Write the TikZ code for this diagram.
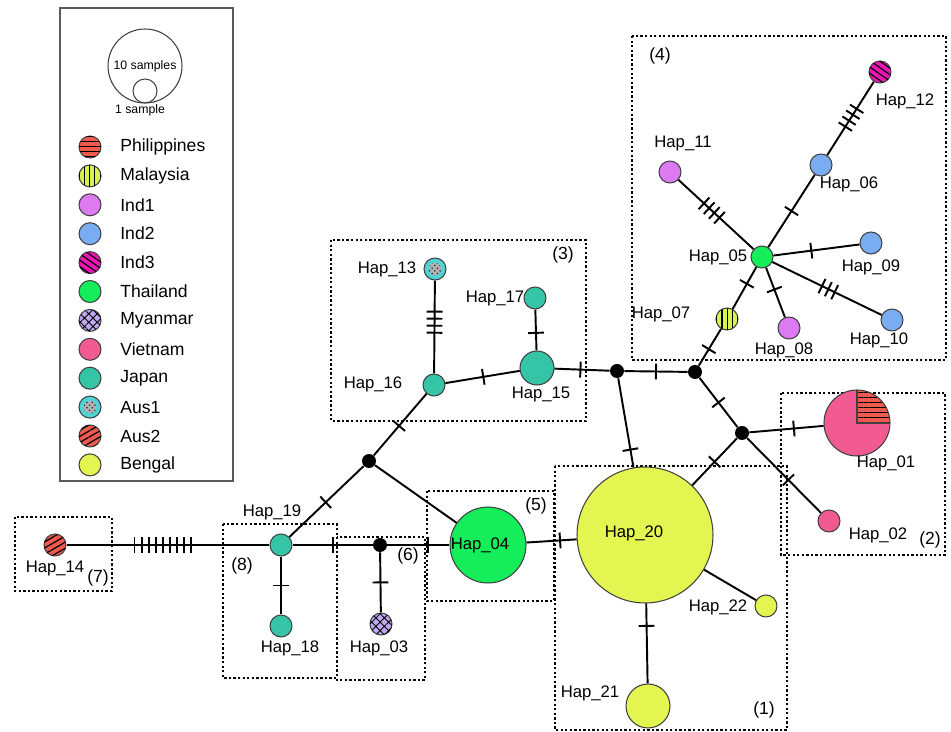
\documentclass[tikz,border=0pt]{standalone}
\usepackage{fontspec}
\setmainfont{Liberation Sans}
\usepackage{xcolor}
\usetikzlibrary{decorations.markings,patterns.meta,patterns}

\definecolor{cphil}{HTML}{EE5A4E}
\definecolor{cmalay}{HTML}{D8F24E}
\definecolor{cind1}{HTML}{DD7AF2}
\definecolor{cind2}{HTML}{7AACF2}
\definecolor{cind3}{HTML}{EE15B5}
\definecolor{cthai}{HTML}{15EE5A}
\definecolor{cmyan}{HTML}{BEA8EE}
\definecolor{cviet}{HTML}{F25A92}
\definecolor{cjapan}{HTML}{35C4A5}
\definecolor{caus1}{HTML}{4ED4D6}
\definecolor{caus2}{HTML}{EE5A4E}
\definecolor{cbeng}{HTML}{E3F550}

\tikzset{
  hap/.style={circle, draw=black!75, line width=0.6pt, inner sep=0pt, minimum size=0.44cm},
  mv/.style={circle, fill=black, inner sep=0pt, minimum size=0.28cm},
  hapname/.style={font=\fontsize{9.5}{11}\selectfont, inner sep=1pt},
  grpname/.style={font=\fontsize{10}{12}\selectfont, inner sep=1pt},
  link/.style={line width=1.1pt},
  grp/.style={line width=1.3pt, dash pattern=on 1.3pt off 1.3pt},
  mut/.style={postaction={decorate, decoration={markings,
    mark=at position #1 with {\draw[line width=1.1pt] (0,-4.5pt) -- (0,4.5pt);}}}},
  muts/.style 2 args={postaction={decorate, decoration={markings,
    mark=between positions #1 and #2 step 4pt with {\draw[line width=1.1pt] (0,-4.5pt) -- (0,4.5pt);}}}},
  % population styles
  phil/.style={hap, fill=cphil, postaction={pattern={Lines[angle=0,distance=2.8pt,line width=0.6pt]}}},
  malay/.style={hap, fill=cmalay, postaction={pattern={Lines[angle=90,distance=3pt,line width=0.7pt]}}},
  ind1/.style={hap, fill=cind1},
  ind2/.style={hap, fill=cind2},
  ind3/.style={hap, fill=cind3, postaction={pattern={Lines[angle=-35,distance=3pt,line width=0.7pt]}}},
  thai/.style={hap, fill=cthai},
  myan/.style={hap, fill=cmyan, postaction={pattern={Hatch[angle=45,distance=3.4pt,line width=0.5pt]}}},
  viet/.style={hap, fill=cviet},
  japan/.style={hap, fill=cjapan},
  ausone/.style={hap, fill=caus1, path picture={
    \fill[gray!60] (path picture bounding box.center) circle (3.6pt);
    \fill[pattern=crosshatch dots, pattern color=black!85] (path picture bounding box.center) circle (3.6pt);}},
  austwo/.style={hap, fill=caus2, postaction={pattern={Lines[angle=30,distance=3pt,line width=0.7pt]}}},
  bengal/.style={hap, fill=cbeng},
}

\begin{document}
\begin{tikzpicture}[x=0.02cm, y=-0.02cm]
\useasboundingbox (0,0) rectangle (951,732);

% legend
\draw[draw=gray!70!black, line width=1.4pt] (60,8) rectangle (233,481);
\node[circle, draw=black!75, line width=0.6pt, minimum size=1.48cm, inner sep=0pt] (bigc) at (145,66) {};
\node[circle, draw=black!75, line width=0.6pt, minimum size=0.48cm, inner sep=0pt] (smallc) at (145,91) {};
\node[font=\fontsize{7}{8}\selectfont, inner sep=0pt] (bigt) at (145,66) {10 samples};
\node[font=\fontsize{7}{8}\selectfont, inner sep=0pt] (smallt) at (140,110) {1 sample};
\foreach \st/\txt [count=\i] in {phil/Philippines, malay/Malaysia, ind1/Ind1, ind2/Ind2,
    ind3/Ind3, thai/Thailand, myan/Myanmar, viet/Vietnam, japan/Japan,
    ausone/Aus1, austwo/Aus2, bengal/Bengal}{
  \node[\st] (legc\i) at (90,{147+(\i-1)*28.9}) {};
  \node[anchor=west, font=\fontsize{10}{12}\selectfont, inner sep=0pt] (legt\i) at (120,{147+(\i-1)*28.9}) {\txt};
}

% groups
\draw[grp] (555,466) rectangle (787,730);
\draw[grp] (781,393) rectangle (945,555);
\draw[grp] (331,240) rectangle (586,421);
\draw[grp] (632,36) rectangle (946,360);
\draw[grp] (427,491) rectangle (554,601);
\draw[grp] (337,537) rectangle (425,680);
\draw[grp] (15,517) rectangle (112,591);
\draw[grp] (223,524) rectangle (337,678);
\node[grpname] (g1) at (764,710) {(1)};
\node[grpname] (g2) at (930,540) {(2)};
\node[grpname] (g3) at (563,255) {(3)};
\node[grpname] (g4) at (660,56) {(4)};
\node[grpname] (g5) at (536,506) {(5)};
\node[grpname] (g6) at (408,556) {(6)};
\node[grpname] (g7) at (98,578) {(7)};
\node[grpname] (g8) at (242,566) {(8)};

% haplotypes
\node[bengal, minimum size=2.72cm] (h20) at (645,535) {};
\node[bengal, minimum size=0.88cm] (h21) at (648,706) {};
\node[bengal] (h22) at (766,606) {};
\node[thai, minimum size=1.52cm] (h04) at (488,545) {};
\node[viet, minimum size=1.32cm, path picture={
    \fill[cphil] (path picture bounding box.center) rectangle (path picture bounding box.north east);
    \fill[pattern={Lines[angle=0,distance=2.8pt,line width=0.6pt]}] (path picture bounding box.center) rectangle (path picture bounding box.north east);
    \draw[black!75, line width=0.6pt] (path picture bounding box.north) -- (path picture bounding box.center) -- (path picture bounding box.east);}] (h01) at (857,423) {};
\node[viet] (h02) at (829,521) {};
\node[thai] (h05) at (762,257) {};
\node[ind2] (h06) at (821,165) {};
\node[ind3] (h12) at (880,72) {};
\node[ind1] (h11) at (670,172) {};
\node[ind2] (h09) at (871,243) {};
\node[ind2] (h10) at (892,320) {};
\node[ind1] (h08) at (789,328) {};
\node[malay] (h07) at (727,319) {};
\node[japan, minimum size=0.68cm] (h15) at (537,368) {};
\node[japan] (h17) at (535,298) {};
\node[japan] (h16) at (434,385) {};
\node[ausone] (h13) at (435,269) {};
\node[japan] (h19) at (281,545) {};
\node[japan] (h18) at (281,626) {};
\node[myan] (h03) at (381,624) {};
\node[austwo] (h14) at (55,545) {};

% median vectors
\node[mv] (m1) at (617,371) {};
\node[mv] (m2) at (695,372) {};
\node[mv] (m3) at (742,433) {};
\node[mv] (m4) at (369,461) {};
\node[mv] (m5) at (380,545) {};

% links
\draw[link, muts={0.335}{0.62}] (h14) -- (h19);
\draw[link, mut=0.5] (h19) -- (m5);
\draw[link, mut=0.65] (m5) -- (h04);
\draw[link, mut=0.67] (h04) -- (h20);
\draw[link, mut=0.5] (m5) -- (h03);
\draw[link, mut=0.5] (h19) -- (h18);
\draw[link, mut=0.49] (h19) -- (m4);
\draw[link] (m4) -- (h04);
\draw[link, mut=0.48] (m4) -- (h16);
\draw[link, mut=0.51] (h16) -- (h15);
\draw[link, muts={0.335}{0.6}] (h13) -- (h16);
\draw[link, mut=0.57] (h17) -- (h15);
\draw[link, mut=0.47] (h15) -- (m1);
\draw[link, mut=0.5] (m1) -- (m2);
\draw[link, mut=0.8] (m1) -- (h20);
\draw[link, mut=0.55] (h07) -- (m2);
\draw[link, mut=0.5] (m2) -- (m3);
\draw[link, mut=0.6] (m3) -- (h01);
\draw[link, mut=0.56] (m3) -- (h02);
\draw[link, mut=0.5] (m3) -- (h20);
\draw[link, mut=0.4] (h05) -- (h07);
\draw[link, mut=0.5] (h05) -- (h06);
\draw[link, muts={0.39}{0.65}] (h06) -- (h12);
\draw[link, muts={0.34}{0.565}] (h11) -- (h05);
\draw[link, mut=0.44] (h05) -- (h09);
\draw[link, muts={0.455}{0.59}] (h05) -- (h10);
\draw[link, mut=0.44] (h05) -- (h08);
\draw[link] (h20) -- (h22);
\draw[link, mut=0.28] (h20) -- (h21);

% haplotype names
\node[hapname] (t20) at (634,533) {Hap\_20};
\node[hapname] (t21) at (590,693) {Hap\_21};
\node[hapname] (t22) at (718,607) {Hap\_22};
\node[hapname] (t04) at (480,545) {Hap\_04};
\node[hapname] (t01) at (886,463) {Hap\_01};
\node[hapname] (t02) at (878,535) {Hap\_02};
\node[hapname] (t05) at (718,257) {Hap\_05};
\node[hapname] (t06) at (849,184) {Hap\_06};
\node[hapname] (t12) at (905,101) {Hap\_12};
\node[hapname] (t11) at (683,143) {Hap\_11};
\node[hapname] (t09) at (871,267) {Hap\_09};
\node[hapname] (t10) at (879,340) {Hap\_10};
\node[hapname] (t08) at (784,350) {Hap\_08};
\node[hapname] (t07) at (661,314) {Hap\_07};
\node[hapname] (t15) at (541,394) {Hap\_15};
\node[hapname] (t17) at (495,298) {Hap\_17};
\node[hapname] (t16) at (373,384) {Hap\_16};
\node[hapname] (t13) at (387,269) {Hap\_13};
\node[hapname] (t19) at (272,512) {Hap\_19};
\node[hapname] (t18) at (290,648) {Hap\_18};
\node[hapname] (t03) at (379,648) {Hap\_03};
\node[hapname] (t14) at (55,568) {Hap\_14};

\end{tikzpicture}
\end{document}
